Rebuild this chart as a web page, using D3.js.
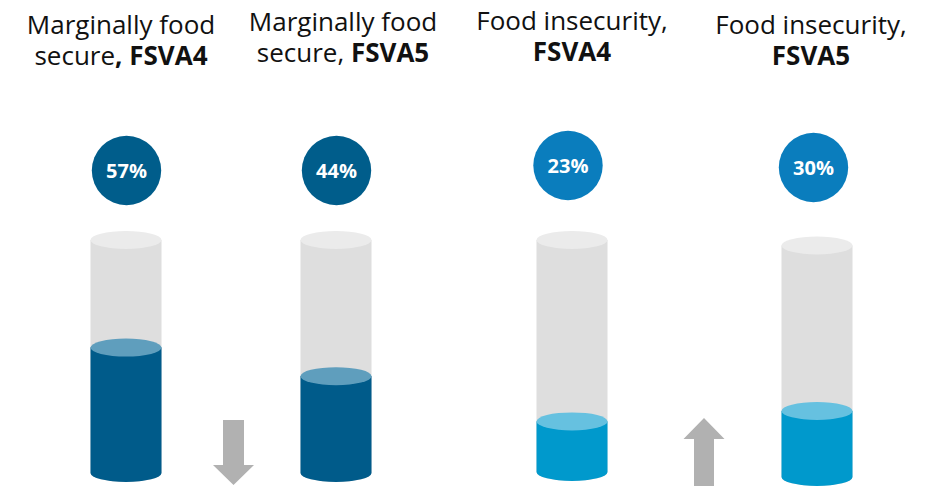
<!DOCTYPE html>
<html>
<head>
<meta charset="utf-8">
<script src="https://cdn.jsdelivr.net/npm/d3@7"></script>
<style>
  html, body { margin: 0; padding: 0; background: #fff; }
  svg { display: block; font-family: "Open Sans", sans-serif; }
</style>
</head>
<body>
<svg id="chart" width="928" height="486"></svg>
<script>
// ---- Data ----
const categories = ["MFS_FSVA4", "MFS_FSVA5", "FI_FSVA4", "FI_FSVA5"];
const titleLine1 = ["Marginally food", "Marginally food", "Food insecurity,", "Food insecurity,"];
const titleLine2Plain = ["secure", "secure, ", "", ""];
const titleLine2Bold = [", FSVA4", "FSVA5", "FSVA4", "FSVA5"];
const values = [57, 44, 23, 30];
const groups = ["marginal", "marginal", "insecure", "insecure"];
const changes = [{ between: [0, 1], dir: "down" }, { between: [2, 3], dir: "up" }];

// ---- Layout ----
const svg = d3.select("#chart");
const x = d3.scaleOrdinal().domain(categories).range([126, 336, 572, 817]);
const titleX = d3.scaleOrdinal().domain(categories).range([121, 343, 572, 811]);
const titleY = d3.scaleOrdinal().domain(categories).range([34, 31, 30, 34]);
const circleY = d3.scaleOrdinal().domain(categories).range([170.5, 170.5, 165.5, 167.5]);
const circleX = d3.scaleOrdinal().domain(categories).range([126.5, 336.5, 568, 813.5]);
const glassTop = d3.scaleOrdinal().domain(categories).range([240, 240, 240, 245.5]);
const bottomY = d3.scaleOrdinal().domain(categories).range([473, 473, 472, 477]);
const pxPerPct = 2.2;
const yFill = (cat, v) => d3.scaleLinear().domain([0, 100]).range([bottomY(cat), bottomY(cat) - 100 * pxPerPct])(v);

const rx = 35.5, ry = 9;
const colors = {
  marginal: { circle: "#005d8b", body: "#005b8a", top: "#5f9ebd" },
  insecure: { circle: "#0a7dbd", body: "#0099cc", top: "#66c1e0" }
};

const data = categories.map((c, i) => ({ c, i, v: values[i], g: groups[i] }));

function cylPath(cx, top, bottom) {
  return `M${cx - rx},${top} L${cx - rx},${bottom} A${rx},${ry} 0 0 0 ${cx + rx},${bottom} L${cx + rx},${top} Z`;
}

const g = svg.append("g");

// Titles (two separate text lines)
data.forEach(d => {
  g.append("text")
    .attr("x", titleX(d.c)).attr("y", titleY(d.c))
    .attr("text-anchor", "middle").attr("font-size", 26).attr("fill", "#111")
    .text(titleLine1[d.i]);
  const l2 = g.append("text")
    .attr("x", titleX(d.c)).attr("y", titleY(d.c) + 31)
    .attr("text-anchor", "middle").attr("font-size", 26).attr("fill", "#111");
  if (titleLine2Plain[d.i]) l2.append("tspan").text(titleLine2Plain[d.i]);
  l2.append("tspan").attr("font-weight", "bold").text(titleLine2Bold[d.i]);
});

// Circles with percentages
g.selectAll("circle.badge").data(data).join("circle")
  .attr("class", "badge")
  .attr("cx", d => circleX(d.c)).attr("cy", d => circleY(d.c)).attr("r", 34.7)
  .attr("fill", d => colors[d.g].circle);
g.selectAll("text.pct").data(data).join("text")
  .attr("class", "pct")
  .attr("x", d => circleX(d.c)).attr("y", d => circleY(d.c) + 7)
  .attr("text-anchor", "middle").attr("font-size", 20).attr("font-weight", "bold")
  .attr("fill", "#fff").text(d => d.v + "%");

// Glass cylinders
g.selectAll("path.glass").data(data).join("path")
  .attr("class", "glass")
  .attr("d", d => cylPath(x(d.c), glassTop(d.c), bottomY(d.c)))
  .attr("fill", "#dedede");
g.selectAll("ellipse.glasstop").data(data).join("ellipse")
  .attr("class", "glasstop")
  .attr("cx", d => x(d.c)).attr("cy", d => glassTop(d.c)).attr("rx", rx).attr("ry", ry)
  .attr("fill", "#ebebeb");

// Filled part
g.selectAll("path.fill").data(data).join("path")
  .attr("class", "fill")
  .attr("d", d => cylPath(x(d.c), yFill(d.c, d.v), bottomY(d.c)))
  .attr("fill", d => colors[d.g].body);
g.selectAll("ellipse.filltop").data(data).join("ellipse")
  .attr("class", "filltop")
  .attr("cx", d => x(d.c)).attr("cy", d => yFill(d.c, d.v)).attr("rx", rx).attr("ry", ry)
  .attr("fill", d => colors[d.g].top);

// Change arrows
changes.forEach(ch => {
  const cx = ch.dir === "down" ? 233.5 : 704;
  let p;
  if (ch.dir === "down") {
    p = `M${cx - 10.5},420 L${cx + 10.5},420 L${cx + 10.5},465 L${cx + 20.5},465 L${cx},485 L${cx - 20.5},465 L${cx - 10.5},465 Z`;
  } else {
    p = `M${cx - 10},490 L${cx + 10},490 L${cx + 10},439 L${cx + 20.5},439 L${cx},418 L${cx - 20.5},439 L${cx - 10},439 Z`;
  }
  g.append("path").attr("d", p).attr("fill", "#b1b1b1");
});
</script>
</body>
</html>
